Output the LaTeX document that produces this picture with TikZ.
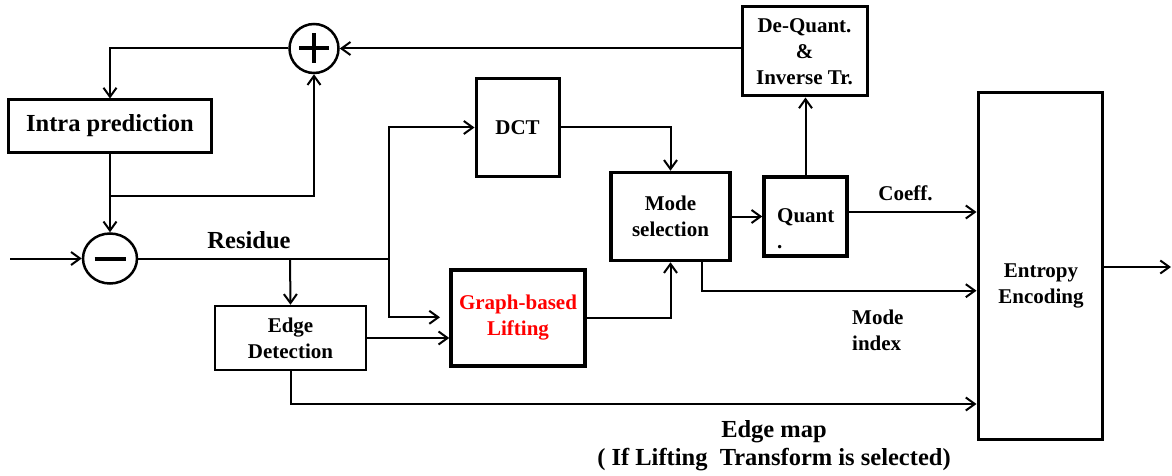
\documentclass[tikz,border=0pt]{standalone}
\usepackage{fontspec}
\setmainfont{Liberation Serif}
\usetikzlibrary{arrows.meta,shapes.geometric,calc}
\begin{document}
\begin{tikzpicture}[x=1pt,y=-1pt,
  conn/.style={line width=2pt},
  arr/.style={conn,-{Straight Barb[length=9pt,width=13pt]}},
  box/.style={draw,rectangle,line width=3pt,inner sep=0pt,align=center,
    font=\bfseries\fontsize{21}{26}\selectfont},
  txt/.style={inner sep=0pt,font=\bfseries\fontsize{21}{26}\selectfont},
  bigtxt/.style={inner sep=0pt,font=\bfseries\fontsize{24.5}{28}\selectfont},
  sumnode/.style={draw,line width=2.5pt,inner sep=0pt}]
\useasboundingbox (0,0) rectangle (1172,476);

% blocks
\node[box,font=\bfseries\fontsize{24.5}{28}\selectfont,minimum width=203pt,minimum height=52pt] (intra) at (110,126) {Intra prediction};
\node[sumnode,circle,minimum size=49pt] (plus) at (314,48.5) {};
\node[sumnode,ellipse,minimum width=54pt,minimum height=50pt] (minus) at (110,258.5) {};
\node[box,minimum width=125pt,minimum height=89pt] (dequant) at (804.5,51.5) {De-Quant.\\\&\\Inverse\ Tr.};
\node[box,minimum width=83pt,minimum height=97pt] (dct) at (517.5,127.5) {DCT};
\node[box,line width=3.5pt,minimum width=119pt,minimum height=88pt] (mode) at (670.5,216.5) {Mode\\selection};
\node[box,line width=3.5pt,minimum width=83pt,minimum height=79pt] (quant) at (805.5,216.5) {};
\node[txt,anchor=north west,align=left] (quanttxt) at (777,208.3) {Quant\\.};
\node[box,line width=3.5pt,minimum width=134pt,minimum height=96pt,text=red] (graph) at (518,318) {Graph-based\\Lifting};
\node[box,line width=2.5pt,minimum width=151pt,minimum height=64pt] (edge) at (290.5,338) {Edge\\Detection};
\node[box,minimum width=124pt,minimum height=346pt] (entropy) at (1040,266) {};
\node[txt,anchor=north,align=center] (entropytxt) at (1041,263.5) {Entropy\\Encoding};

% sum signs
\draw[line width=4pt] ($(plus.center)+(-15,0)$) -- ($(plus.center)+(15,0)$);
\draw[line width=4pt] ($(plus.center)+(0,-15)$) -- ($(plus.center)+(0,15)$);
\draw[line width=4pt] ($(minus.center)+(-15.5,0)$) -- ($(minus.center)+(15.5,0)$);

% helper coordinates
\coordinate (in) at (10,258.5);
\coordinate (j1) at (290,258.5);
\coordinate (j2) at (388.7,258.5);
\coordinate (lift) at (440,317.3);
\coordinate (j3) at (110,196);
\coordinate (coeffy) at (0,212);
\coordinate (mi) at (701.7,290.7);
\coordinate (em) at (0,404);
\coordinate (out) at (1171,267);

% connectors
\draw[arr] (in) -- (minus.west);
\draw[conn] (minus.east) -- (j2);
\draw[arr] (j2) |- (dct.west);
\draw[arr] (j2) |- (lift);
\draw[arr] (j1) -- (edge.north);
\draw[arr] (edge.east) -- (edge.east -| graph.west);
\draw[arr] (graph.east) -| (mode.south);
\draw[arr] (dct.east) -| (mode.north);
\draw[arr] (mode.east) -- (mode.east -| quant.west);
\draw[arr] (quant.north) -- (quant.north |- dequant.south);
\draw[arr] (dequant.west |- plus.east) -- (plus.east);
\draw[arr] (plus.west) -| (intra.north);
\draw[arr] (intra.south) -- (minus.north);
\draw[arr] (j3) -| (plus.south);
\draw[arr] (quant.east |- coeffy) -- (entropy.west |- coeffy);
\draw[arr] (mode.south -| mi) |- (entropy.west |- mi);
\draw[arr] (edge.south) |- (entropy.west |- em);
\draw[arr] (entropy.east |- out) -- (out);

% labels
\node[bigtxt,anchor=base] (residue) at (249,248) {Residue};
\node[txt,anchor=base] (coeff) at (905.5,200.5) {Coeff.};
\node[txt,anchor=north west,align=left] (modeidx) at (852,309.8) {Mode\\index};
\node[bigtxt,anchor=north,align=center] (edgemap) at (774,420) {Edge map\\( If Lifting\ \ Transform is selected)};
\end{tikzpicture}
\end{document}
